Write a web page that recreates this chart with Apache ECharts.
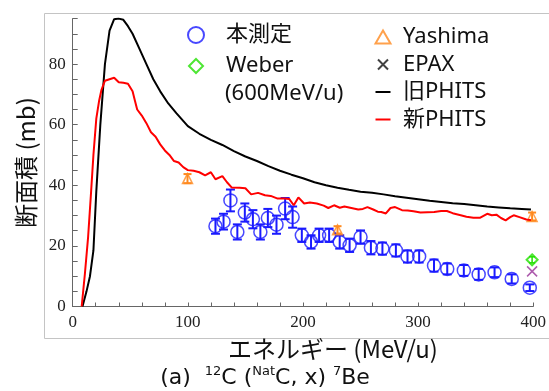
<!DOCTYPE html>
<html>
<head>
<meta charset="utf-8">
<script src="https://cdn.jsdelivr.net/npm/echarts@6/dist/echarts.min.js"></script>
<style>
html, body { margin: 0; padding: 0; background: #fff; }
#chart { width: 549px; height: 391px; }
</style>
</head>
<body>
<div id="chart"></div>
<script>
// 旧PHITS / 新PHITS 計算値
var oldE = [8.5, 12, 15, 18, 20.5, 24, 28, 32, 36, 40, 44, 48, 52, 58, 64, 70, 76, 83, 90, 100, 110, 120, 130, 140, 150, 160, 170, 180, 190, 200, 210, 220, 230, 240, 250, 260, 270, 280, 290, 300, 310, 320, 330, 340, 350, 360, 370, 380, 390, 398];
var oldV = [0, 5, 10, 18.5, 38, 60, 80, 91, 94.8, 95, 94.6, 92.5, 90, 85, 80, 75, 71, 67, 63.8, 59.5, 57, 55, 53.3, 51.3, 49.5, 48, 46.3, 44.8, 43.5, 42.3, 41, 40, 39.2, 38.5, 37.9, 37.5, 37, 36.4, 35.9, 35.4, 34.9, 34.5, 34.1, 33.8, 33.4, 33, 32.7, 32.4, 32.2, 32];
var newE = [7.8, 10.6, 13.4, 16, 18, 20.5, 23, 25, 28, 32, 36, 40, 44, 48, 52, 54, 56, 60, 64, 68, 72, 76, 80, 84, 88, 92, 96, 100, 105, 110, 115, 120, 124, 130, 134, 138, 145, 150, 155, 161, 167, 172, 178, 184, 188, 192, 196, 201, 206, 212, 218, 222, 227, 232, 236, 242, 248, 252, 256, 261, 265, 268, 272, 276, 280, 286, 291, 296, 302, 308, 314, 320, 325, 330, 337, 342, 348, 354, 360, 364, 368, 372, 376, 380, 383, 388, 394, 398];
var newV = [0, 10.8, 23, 38, 50, 62, 68, 71.5, 74.5, 75, 75.5, 74, 73.8, 73.5, 71, 68, 65, 63, 60.5, 57.5, 56, 53.5, 51.5, 50, 48, 47.5, 46, 45, 44.8, 44.3, 43.3, 44.3, 42, 43, 41, 39.3, 39.2, 39, 37, 37.5, 36.7, 36.5, 35.6, 35.6, 35.5, 33.4, 36, 34, 34.3, 34, 33.3, 32.5, 33.4, 32.6, 33, 32.5, 32, 32.2, 32.8, 32, 31.3, 31.2, 30.7, 32.5, 32.8, 31.8, 31.7, 31.4, 31, 31.1, 31.2, 31.5, 31.5, 30.8, 30.1, 29.6, 29.3, 29.3, 30.6, 30.1, 30.3, 29.2, 28.4, 29.5, 30.1, 29.5, 28.7, 28.5];

// 本測定
var measE = [124, 131, 137, 143, 149.5, 156.5, 163, 169.5, 177, 184.5, 191, 199, 207, 214, 222.7, 231.9, 240.5, 250, 259, 269, 280.7, 290.8, 300.9, 313.8, 325.3, 339.7, 352.6, 366.4, 381.3, 397];
var measV = [26.5, 28, 35, 24.6, 31, 28.8, 24.6, 29.2, 27, 32.3, 29.5, 23.5, 21.3, 23.5, 23.5, 21.3, 20.2, 22.9, 19.4, 19.1, 18.5, 16.5, 16.5, 13.5, 12.4, 11.9, 10.6, 11.3, 9.1, 6.2];
var measErr = [2.5, 2.6, 3.6, 2.5, 3, 3, 2.5, 3, 3, 3.5, 3.5, 2.2, 2.2, 2.2, 2.2, 2.2, 2.2, 2.2, 2.2, 2, 2, 2, 2, 2, 1.8, 1.8, 1.8, 1.6, 1.5, 1.1];

// Yashima
var yashE = [99.7, 230, 399];
var yashV = [42.2, 25.3, 29.7];
var yashErr = [1.5, 1.2, 1.3];

// Weber (600MeV/u)
var weberE = [399];
var weberV = [15.4];
var weberErr = [1];

// EPAX
var epaxE = [399];
var epaxV = [11.6];

var xTicks = [0, 100, 200, 300, 400];
var yTicks = [0, 20, 40, 60, 80];

function pairs(xs, ys) {
    return xs.map(function (x, i) { return [x, ys[i]]; });
}
function errRows(xs, ys, es) {
    return xs.map(function (x, i) { return [x, ys[i] - es[i], ys[i] + es[i]]; });
}
function errRender(color, cap, width) {
    return function (params, api) {
        var x = api.value(0);
        var top = api.coord([x, api.value(2)]);
        var bot = api.coord([x, api.value(1)]);
        var st = { stroke: color, lineWidth: width };
        return {
            type: 'group',
            children: [
                { type: 'line', shape: { x1: top[0], y1: top[1], x2: bot[0], y2: bot[1] }, style: st },
                { type: 'line', shape: { x1: top[0] - cap, y1: top[1], x2: top[0] + cap, y2: top[1] }, style: st },
                { type: 'line', shape: { x1: bot[0] - cap, y1: bot[1], x2: bot[0] + cap, y2: bot[1] }, style: st }
            ]
        };
    };
}
function tickFmt(list) {
    return function (v) { return list.indexOf(v) >= 0 ? String(v) : ''; };
}

var BLUE = '#1a1aff', ORANGE = '#ff8a1f', GREEN = '#22e000', PURPLE = '#993399';
var SERIF = "'Liberation Serif', 'Times New Roman', serif";
var legendFont = { fontFamily: "'Noto Sans', 'Noto Sans CJK JP', sans-serif", fontSize: 22, color: '#111' };
var lineIcon = 'path://M0,0M30,16M7.5,7H22.5V9H7.5Z';
var crossIcon = 'path://M0,0M30,16M10,3L20,13M20,3L10,13';
var triIcon = 'path://M0,0M30,16M15,1.5L22.5,14.5H7.5Z';
var diamondIcon = 'path://M0,0M50,16M25,1L32,8L25,15L18,8Z';

var myChart = echarts.init(document.getElementById('chart'), null, { renderer: 'canvas' });

var option = {
    animation: false,
    backgroundColor: '#fff',
    grid: { left: 72.7, right: 12, top: 18.6, bottom: 84.5 },
    graphic: [
        { type: 'rect', shape: { x: 44.5, y: 13.5, width: 520, height: 325 }, style: { fill: 'none', stroke: '#c4c4c4', lineWidth: 1 }, z: -1 },
        { type: 'text', x: 225, y: 83, style: { text: '(600MeV/u)', font: "22px 'Noto Sans', sans-serif", fill: '#111' } },
        {
            type: 'text', x: 265, y: 365,
            style: {
                text: '(a)  {s|12}C ({s|Nat}C, x) {s|7}Be',
                align: 'center',
                font: "22px 'DejaVu Sans', sans-serif",
                fill: '#111',
                rich: {
                    s: { fontSize: 13, verticalAlign: 'top', lineHeight: 26, fontFamily: 'DejaVu Sans' }
                }
            }
        }
    ],
    legend: [
        {
            orient: 'vertical', left: 170, top: 24, padding: 0, itemWidth: 50, itemHeight: 16, itemGap: 9,
            textStyle: legendFont, selectedMode: false,
            data: [
                { name: '本測定', icon: 'circle', itemStyle: { color: 'rgba(0,0,0,0)', borderColor: BLUE, borderWidth: 2 } },
                { name: 'Weber', icon: diamondIcon, itemStyle: { color: 'rgba(0,0,0,0)', borderColor: GREEN, borderWidth: 2 } }
            ]
        },
        {
            orient: 'vertical', left: 367, top: 26, padding: 0, itemWidth: 30, itemHeight: 16, itemGap: 5.5,
            textStyle: legendFont, selectedMode: false,
            data: [
                { name: 'Yashima', icon: triIcon, itemStyle: { color: 'rgba(0,0,0,0)', borderColor: ORANGE, borderWidth: 2 } },
                { name: 'EPAX', icon: crossIcon, itemStyle: { color: 'rgba(0,0,0,0)', borderColor: '#111', borderWidth: 2 } },
                { name: '旧PHITS', icon: lineIcon, itemStyle: { color: '#000', borderWidth: 0 } },
                { name: '新PHITS', icon: lineIcon, itemStyle: { color: '#ff0000', borderWidth: 0 } }
            ]
        }
    ],
    xAxis: {
        type: 'value', min: 0, max: 400, interval: 20,
        name: 'エネルギー (MeV/u)', nameLocation: 'middle', nameGap: 26,
        nameTextStyle: { fontFamily: "'Noto Sans CJK JP', 'Noto Sans', sans-serif", fontSize: 24, color: '#111', padding: [0, 0, 0, 60] },
        axisLine: { lineStyle: { color: '#666', width: 1 } },
        axisTick: { inside: true, length: 4, lineStyle: { color: '#666' } },
        axisLabel: { margin: 8, formatter: tickFmt(xTicks), fontFamily: SERIF, fontSize: 17, color: '#222' },
        splitLine: { show: false }
    },
    yAxis: {
        type: 'value', min: 0, max: 95, interval: 5,
        name: '断面積 (mb)', nameLocation: 'middle', nameGap: 31, nameRotate: 90,
        nameTextStyle: { fontFamily: "'Noto Sans CJK JP', 'Noto Sans', sans-serif", fontSize: 24, color: '#111' },
        axisLine: { show: true, lineStyle: { color: '#666', width: 1 } },
        axisTick: { show: true, inside: true, length: 5, lineStyle: { color: '#666' } },
        axisLabel: { margin: 7, formatter: tickFmt(yTicks), fontFamily: SERIF, fontSize: 17, color: '#222' },
        splitLine: { show: false }
    },
    series: [
        {
            name: '旧PHITS', type: 'line', data: pairs(oldE, oldV), showSymbol: false,
            lineStyle: { color: '#000', width: 2 }, itemStyle: { color: '#000' }
        },
        {
            name: '新PHITS', type: 'line', data: pairs(newE, newV), showSymbol: false,
            lineStyle: { color: '#ff0000', width: 2 }, itemStyle: { color: '#ff0000' }
        },
        {
            name: '本測定', type: 'scatter', data: pairs(measE, measV), symbol: 'circle', symbolSize: 13,
            itemStyle: { color: 'rgba(0,0,0,0)', borderColor: BLUE, borderWidth: 1.5 }
        },
        {
            name: 'measErr', type: 'custom', data: errRows(measE, measV, measErr),
            renderItem: errRender(BLUE, 4.5, 2), encode: { x: 0, y: [1, 2] }
        },
        {
            name: 'Yashima', type: 'scatter', data: pairs(yashE, yashV), symbol: 'triangle', symbolSize: 10,
            itemStyle: { color: 'rgba(0,0,0,0)', borderColor: ORANGE, borderWidth: 1.5 }
        },
        {
            name: 'yashErr', type: 'custom', data: errRows(yashE, yashV, yashErr),
            renderItem: errRender(ORANGE, 4, 2), encode: { x: 0, y: [1, 2] }
        },
        {
            name: 'Weber', type: 'scatter', data: pairs(weberE, weberV), symbol: 'diamond', symbolSize: 11,
            itemStyle: { color: 'rgba(0,0,0,0)', borderColor: GREEN, borderWidth: 2 }
        },
        {
            name: 'weberErr', type: 'custom', data: errRows(weberE, weberV, weberErr),
            renderItem: errRender(GREEN, 3, 1.5), encode: { x: 0, y: [1, 2] }
        },
        {
            name: 'EPAX', type: 'scatter', data: pairs(epaxE, epaxV), symbol: 'path://M0,0L10,10M10,0L0,10', symbolSize: 10,
            itemStyle: { color: 'rgba(0,0,0,0)', borderColor: PURPLE, borderWidth: 1.5 }
        }
    ]
};

myChart.setOption(option);
</script>
</body>
</html>
